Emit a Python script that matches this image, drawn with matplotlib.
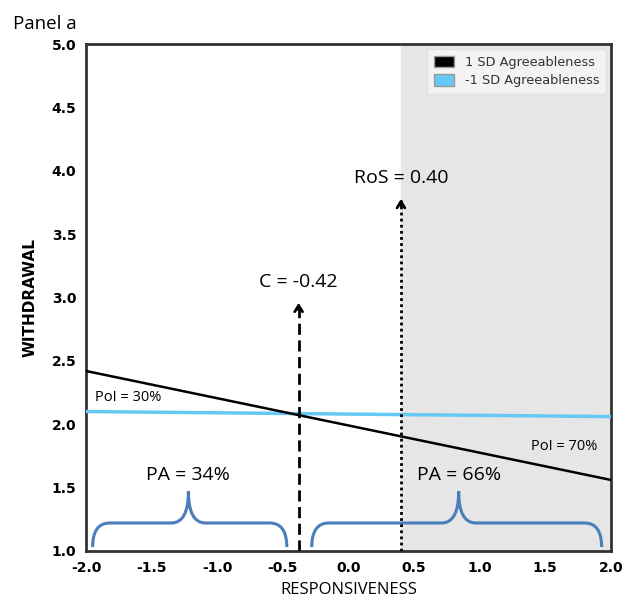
import matplotlib
matplotlib.use("Agg")
import matplotlib.pyplot as plt
from matplotlib.path import Path
from matplotlib.patches import PathPatch, Patch

# dados
x_ends = [-2.0, 2.0]
high_agree = [2.42, 1.56]    # 1 SD Agreeableness
low_agree = [2.10, 2.06]     # -1 SD Agreeableness
c_x = -0.38                  # posição da linha tracejada
ros_x = 0.40                 # início da região de significância
x_ticks = [-2.0, -1.5, -1.0, -0.5, 0.0, 0.5, 1.0, 1.5, 2.0]
y_ticks = [1.0, 1.5, 2.0, 2.5, 3.0, 3.5, 4.0, 4.5, 5.0]
brace_left = [-1.95, -0.47, -1.22]
brace_right = [-0.28, 1.93, 0.84]

ann_font = "Open Sans"
brace_col = "#4a7ebb"


def brace(ax, x0, x1, xm, y0=1.03, y1=1.22, ytop=1.47, r=0.13):
    verts = [(x0, y0), (x0, y1), (x0 + r, y1),
             (xm - r, y1), (xm, y1), (xm, ytop),
             (xm, y1), (xm + r, y1),
             (x1 - r, y1), (x1, y1), (x1, y0)]
    codes = [Path.MOVETO, Path.CURVE3, Path.CURVE3,
             Path.LINETO, Path.CURVE3, Path.CURVE3,
             Path.CURVE3, Path.CURVE3,
             Path.LINETO, Path.CURVE3, Path.CURVE3]
    ax.add_patch(PathPatch(Path(verts, codes), fill=False,
                           edgecolor=brace_col, lw=2.2, zorder=4))


fig = plt.figure(figsize=(6.33, 6.06), dpi=100)
ax = fig.add_axes([0.136, 0.091, 0.829, 0.836])

ax.axvspan(ros_x, 2.0, color="#e6e6e6", zorder=0)

ax.plot(x_ends, low_agree, color="#66c8f5", lw=2.5, zorder=3)
ax.plot(x_ends, high_agree, color="black", lw=1.8, zorder=3)

# linha C (tracejada) e RoS (pontilhada)
c_top = 2.98
ros_top = 3.80
head = "->,head_length=0.45,head_width=0.28"
ax.plot([c_x, c_x], [1.0, c_top - 0.03], color="black", lw=2, ls=(0, (4, 2)), zorder=5)
ax.annotate("", xy=(c_x, c_top), xytext=(c_x, c_top - 0.1),
            arrowprops=dict(arrowstyle=head, lw=2, color="black"))
ax.plot([ros_x, ros_x], [1.0, ros_top - 0.03], color="black", lw=2, ls=(0, (1, 1.2)), zorder=5)
ax.annotate("", xy=(ros_x, ros_top), xytext=(ros_x, ros_top - 0.1),
            arrowprops=dict(arrowstyle=head, lw=2, color="black"))

ax.text(c_x, 3.12, "C = -0.42", ha="center", va="center", fontsize=14, family=ann_font)
ax.text(ros_x, 3.94, "RoS = 0.40", ha="center", va="center", fontsize=14, family=ann_font)
ax.text(-1.93, 2.21, "PoI = 30%", ha="left", va="center", fontsize=10.5, family=ann_font)
ax.text(1.9, 1.82, "PoI = 70%", ha="right", va="center", fontsize=10.5, family=ann_font)

brace(ax, *brace_left)
brace(ax, *brace_right)
ax.text(brace_left[2], 1.6, "PA = 34%", ha="center", va="center", fontsize=14, family=ann_font)
ax.text(brace_right[2], 1.6, "PA = 66%", ha="center", va="center", fontsize=14, family=ann_font)

ax.set_xlim(-2.0, 2.0)
ax.set_ylim(1.0, 5.0)
ax.set_xticks(x_ticks)
ax.set_yticks(y_ticks)
ax.set_xticklabels(["%.1f" % v for v in x_ticks], fontweight="bold", fontsize=10)
ax.set_yticklabels(["%.1f" % v for v in y_ticks], fontweight="bold", fontsize=10)
ax.tick_params(length=0, pad=7)
for s in ax.spines.values():
    s.set_linewidth(2)
    s.set_color("#333333")

ax.set_xlabel("RESPONSIVENESS", fontsize=12, family=ann_font, labelpad=5)
ax.set_ylabel("WITHDRAWAL", fontsize=11, fontweight="bold", labelpad=10)

handles = [Patch(facecolor="black", edgecolor="#999999", label="1 SD Agreeableness"),
           Patch(facecolor="#66c8f5", edgecolor="#999999", label="-1 SD Agreeableness")]
leg = ax.legend(handles=handles, loc="upper right", fontsize=9.3, frameon=True,
                fancybox=False, handlelength=1.6, handleheight=1.0,
                borderaxespad=0.4, labelspacing=0.4, borderpad=0.5)
leg.get_frame().set_facecolor("#f7f7f7")
leg.get_frame().set_edgecolor("#e0e0e0")
for t in leg.get_texts():
    t.set_color("#333333")

fig.text(0.02, 0.975, "Panel a", fontsize=13.5, family=ann_font, va="top")

fig.savefig("out.png", dpi=100)
